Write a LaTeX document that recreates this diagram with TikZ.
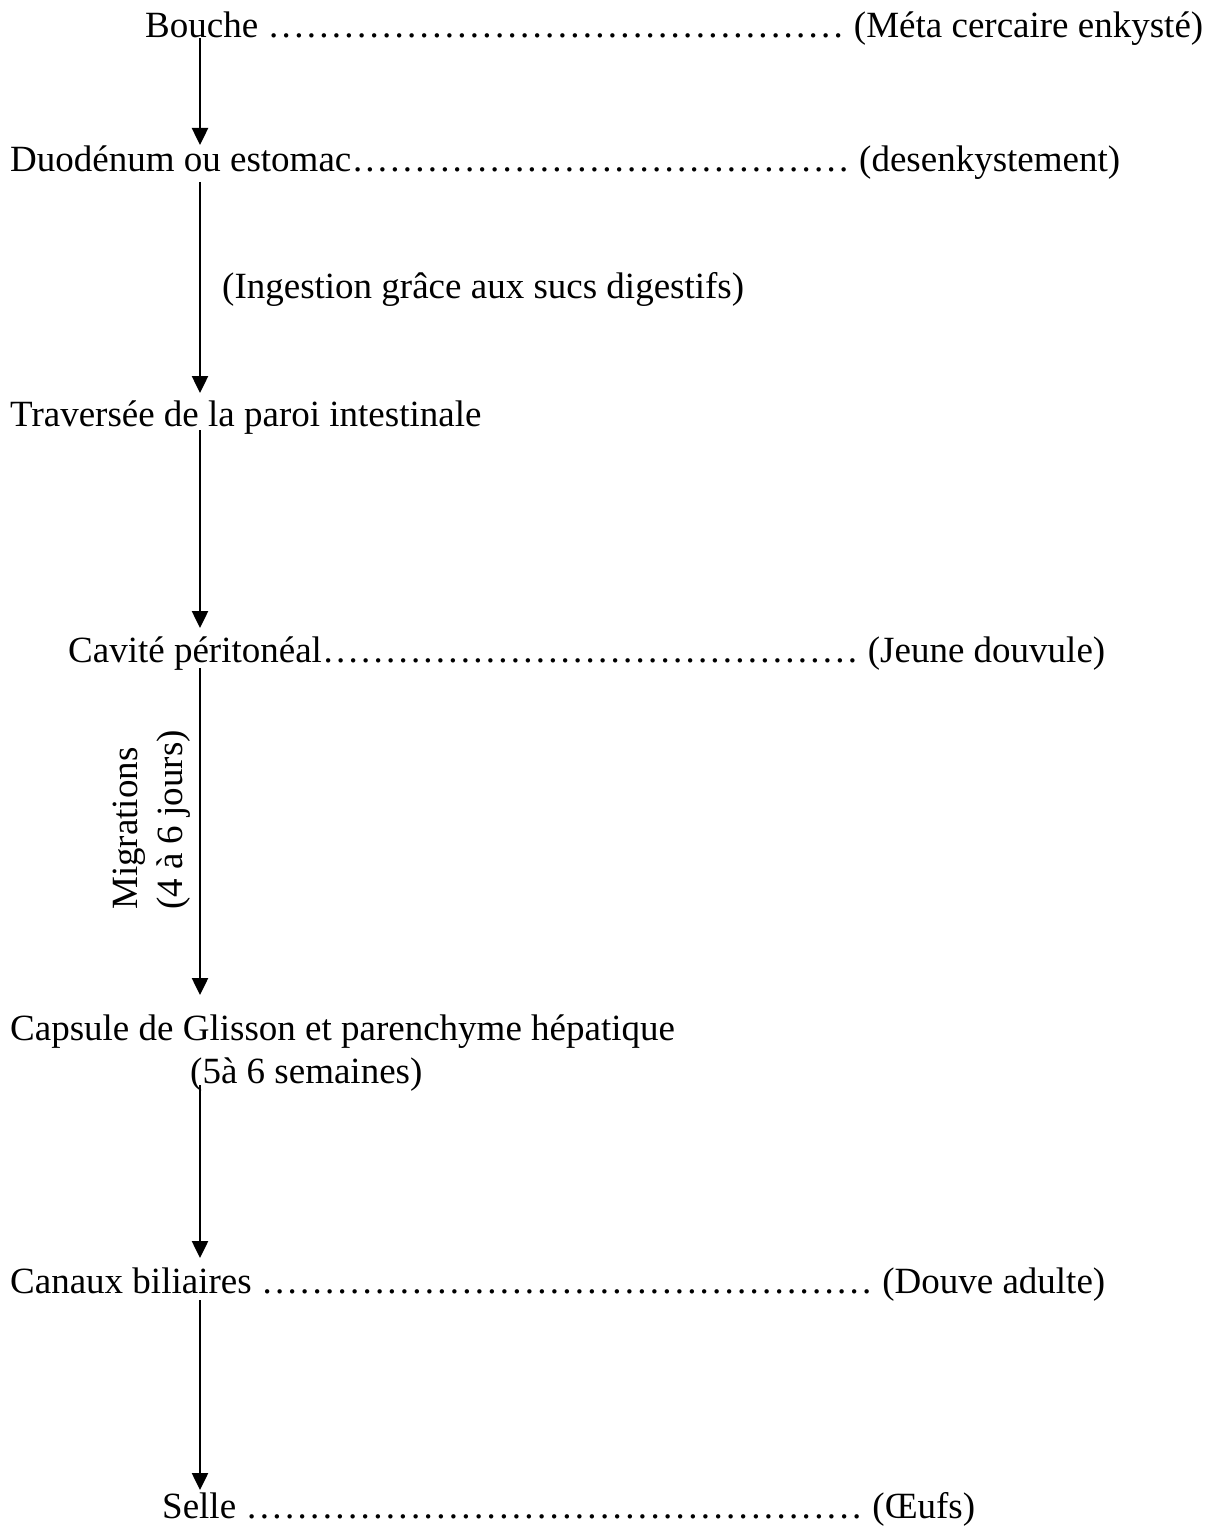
\documentclass[tikz,border=0pt]{standalone}
\usepackage{fontspec}
\setmainfont{Liberation Serif}
\usetikzlibrary{arrows.meta,calc}
\newcommand\dotlead{\xleaders\hbox to 12.4pt{\hss.\hss}\hfill}
\begin{document}
\begin{tikzpicture}[x=1pt,y=1pt,
  lbl/.style={anchor=base west, inner sep=0pt, font=\fontsize{37}{44}\selectfont},
  vlbl/.style={lbl, rotate=90},
  arr/.style={line width=2.5pt, -{Triangle[width=16pt,length=17pt]}}]
\useasboundingbox (0,0) rectangle (1225,-1530);
\coordinate (ax) at (200,0);
\node[lbl] (bouche) at (145,-38) {\hbox to 1058pt{Bouche \dotlead{} (Méta cercaire enkysté)}};
\node[lbl] (duo) at (10,-172) {\hbox to 1110pt{Duodénum ou estomac\dotlead{} (desenkystement)}};
\node[lbl] (ingest) at (222,-298) {(Ingestion grâce aux sucs digestifs)};
\node[lbl] (trav) at (10,-426) {Traversée de la paroi intestinale};
\node[lbl] (cav) at (68,-662) {\hbox to 1037pt{Cavité péritonéal\dotlead{} (Jeune douvule)}};
\node[vlbl] (migr) at (137,-910) {Migrations};
\node[vlbl] (jours) at (182,-910) {(4 à 6 jours)};
\node[lbl] (caps) at (10,-1040) {Capsule de Glisson et parenchyme hépatique};
\node[lbl] (sem) at (190,-1083) {(5à 6 semaines)};
\node[lbl] (can) at (10,-1293) {\hbox to 1095pt{Canaux biliaires \dotlead{} (Douve adulte)}};
\node[lbl] (selle) at (162,-1518) {\hbox to 813pt{Selle \dotlead{} (Œufs)}};
\draw[arr] (bouche.base -| ax) -- ($(duo.base -| ax)+(0,27)$);
\draw[arr] ($(duo.base -| ax)+(0,-10)$) -- ($(trav.base -| ax)+(0,33)$);
\draw[arr] ($(trav.base -| ax)+(0,-4)$) -- ($(cav.base -| ax)+(0,34)$);
\draw[arr] ($(cav.base -| ax)+(0,-6)$) -- ($(caps.base -| ax)+(0,45)$);
\draw[arr] ($(sem.base -| ax)+(0,-2)$) -- ($(can.base -| ax)+(0,35)$);
\draw[arr] ($(can.base -| ax)+(0,-7)$) -- ($(selle.base -| ax)+(0,28)$);
\end{tikzpicture}
\end{document}
